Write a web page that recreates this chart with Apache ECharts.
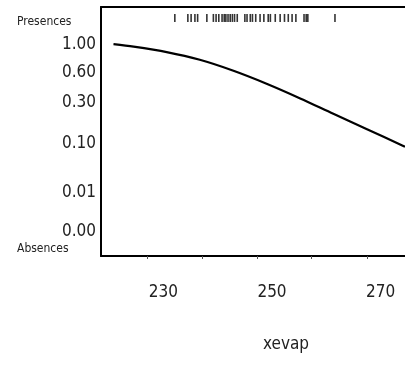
<!DOCTYPE html>
<html>
<head>
<meta charset="utf-8">
<script src="https://cdn.jsdelivr.net/npm/echarts@6/dist/echarts.min.js"></script>
<style>
	html, body { margin: 0; padding: 0; background: #fff; }
	#chart { width: 405px; height: 368px; }
</style>
</head>
<body>
<div id="chart"></div>
<script>
// fitted curve, x = xevap, y = position on the link scale (0 = Absences, 100 = top)
var curveX = [220.8, 224.5, 230.6, 236.7, 242.9, 249.0, 255.2, 261.3, 267.5, 273.6, 274.5];
var curveY = [85.1, 84.1, 81.9, 78.8, 74.4, 69.2, 63.3, 57.1, 50.9, 44.8, 43.9];

// rug of observed presences along the top
var rugX = [232.1, 234.5, 235.1, 235.8, 236.3, 238.0, 239.2, 239.7, 240.2, 240.8, 241.2,
	241.5, 241.9, 242.3, 242.7, 243.1, 243.6, 245.0, 245.4, 246.0, 246.4, 247.0, 247.8,
	248.5, 249.3, 249.7, 250.6, 251.5, 252.3, 253.0, 253.7, 254.4, 255.9, 256.3, 256.6, 261.6];
var rugLevel = 95.6;

// y tick labels and where they sit on the link scale
var yTickPos = [10.0, 25.3, 45.1, 61.8, 73.6, 85.1];
var yTickLabels = ['0.00', '0.01', '0.10', '0.30', '0.60', '1.00'];

// x ticks and labels
var xTickPos = [227.1, 237.1, 247.2, 257.3, 267.6];
var xLabelPos = [230, 250, 270];

var font = '"DejaVu Sans Condensed", "DejaVu Sans", sans-serif';

function drawChart(id) {
	var chart = echarts.init(document.getElementById(id));
	var curveData = [];
	for (var i = 0; i < curveX.length; i++) {
		curveData.push([curveX[i], curveY[i]]);
	}
	var rugData = [];
	for (var j = 0; j < rugX.length; j++) {
		rugData.push([rugX[j], rugLevel]);
	}
	var option = {
		animation : false,
		grid : {
			left : 101,
			right : 0,
			top : 7,
			bottom : 112,
			containLabel : false
		},
		xAxis : [ {
			type : 'value',
			min : 218.5,
			max : 274.5,
			name : 'xevap',
			nameLocation : 'middle',
			nameGap : 80,
			nameTextStyle : {
				color : '#222',
				fontFamily : font,
				fontSize : 17,
				padding : [0, 0, 0, 66]
			},
			axisLine : {
				show : true,
				lineStyle : {
					color : '#000',
					width : 2
				}
			},
			axisTick : {
				show : true,
				customValues : xTickPos,
				length : 3,
				lineStyle : {
					color : '#555',
					width : 1
				}
			},
			axisLabel : {
				show : true,
				customValues : xLabelPos,
				margin : 28,
				color : '#222',
				fontFamily : font,
				fontSize : 17
			},
			splitLine : {
				show : false
			}
		}, {
			type : 'value',
			position : 'top',
			min : 218.5,
			max : 274.5,
			axisLine : {
				show : true,
				lineStyle : {
					color : '#000',
					width : 2
				}
			},
			axisTick : { show : false },
			axisLabel : { show : false },
			splitLine : { show : false }
		} ],
		yAxis : [ {
			type : 'value',
			min : 0,
			max : 100,
			axisLine : {
				show : true,
				lineStyle : {
					color : '#000',
					width : 2
				}
			},
			axisTick : {
				show : false
			},
			axisLabel : {
				show : true,
				customValues : yTickPos,
				margin : 5,
				color : '#222',
				fontFamily : font,
				fontSize : 17,
				formatter : function (v) {
					var k = yTickPos.indexOf(v);
					return k >= 0 ? yTickLabels[k] : '';
				}
			},
			splitLine : {
				show : false
			}
		} ],
		graphic : {
			elements : [ {
				type : 'text',
				left : 17,
				top : 16,
				style : {
					text : 'Presences',
					font : '12px ' + font,
					fill : '#222'
				}
			}, {
				type : 'text',
				left : 17,
				top : 243,
				style : {
					text : 'Absences',
					font : '12px ' + font,
					fill : '#222'
				}
			} ]
		},
		series : [ {
			name : 'fit',
			type : 'line',
			data : curveData,
			smooth : 0.3,
			showSymbol : false,
			lineStyle : {
				color : '#000',
				width : 2.2
			}
		}, {
			name : 'presences',
			type : 'scatter',
			data : rugData,
			symbol : 'rect',
			symbolSize : [1.6, 8],
			itemStyle : {
				color : '#000'
			}
		} ]
	};
	chart.setOption(option);
}
drawChart('chart');
</script>
</body>
</html>
